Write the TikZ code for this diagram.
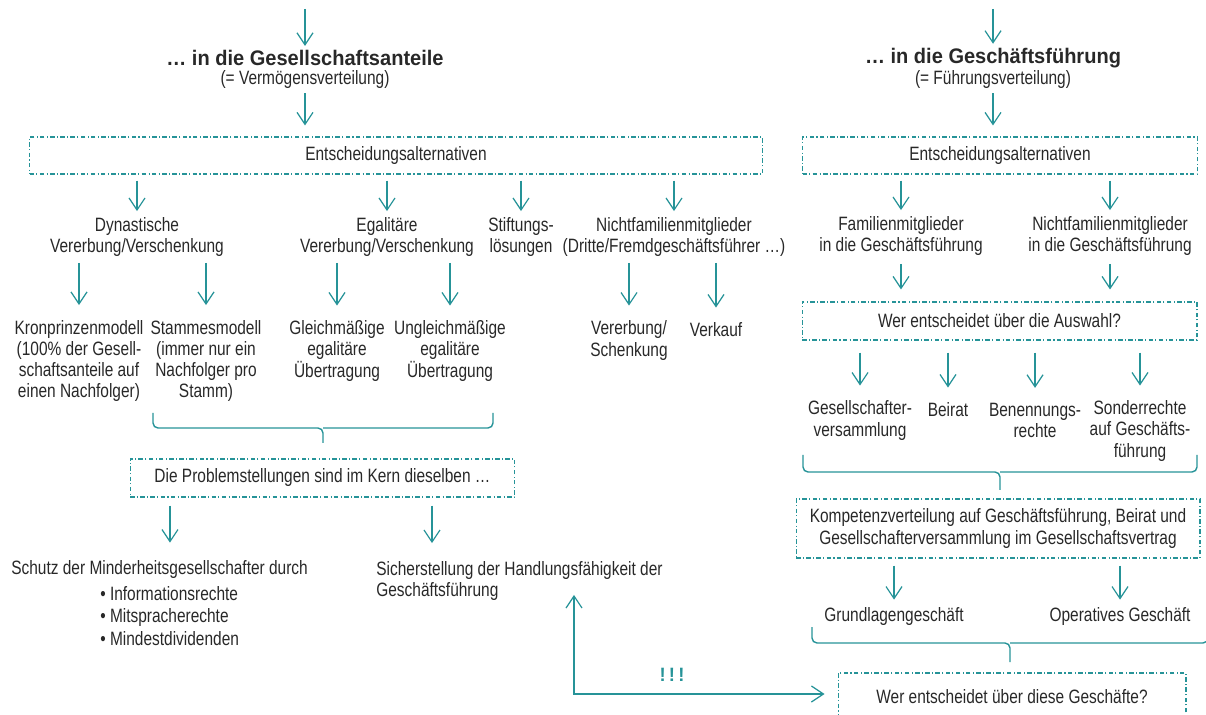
\documentclass[tikz,border=0pt]{standalone}
\usepackage{fontspec}
\setmainfont[FakeStretch=0.8]{Liberation Sans}
\newfontfamily\headfont[FakeStretch=0.95]{Liberation Sans}
\usepackage{xcolor}
\usepackage{tikz}
\usetikzlibrary{arrows.meta}
\definecolor{petrol}{RGB}{38,147,152}
\definecolor{ink}{RGB}{40,40,40}

\begin{document}
\begin{tikzpicture}[x=0.02cm,y=-0.02cm,
  font=\fontsize{11}{12}\selectfont, text=ink,
  every node/.style={inner sep=0pt, align=center},
  vtip/.tip={Straight Barb[length=2.4mm,width=3.2mm]},
  titel/.style={font=\headfont\fontsize{12}{14}\selectfont\bfseries},
  arr/.style={draw=petrol, line width=0.7pt, -vtip, shorten <=1.2mm, shorten >=1.2mm},
  altbox/.style={draw=petrol, line width=0.6pt, dash pattern=on 2.6pt off 1.3pt on 0.6pt off 1.3pt},
  brc/.style={draw=petrol, line width=0.8pt, rounded corners=1mm}]

\useasboundingbox (0,0) rectangle (1206,715);

% Gesellschaftsanteile
\coordinate (inL) at (305,9);
\node[titel] (titL) at (305,58) {… in die Gesellschaftsanteile};
\node (subL) at (305,80) {(= Vermögensverteilung)};
\node[altbox, minimum width=146.6mm, minimum height=7.4mm] (ent1) at (396,155.5) {Entscheidungsalternativen};
\draw[arr, shorten <=0pt, shorten >=0.8mm] (inL) -- (titL);
\draw[arr, shorten <=0.8mm, shorten >=2.2mm] (subL) -- (subL |- ent1.north);

\node (dyn) at (137,237) {Dynastische\\Vererbung/Verschenkung};
\node (ega) at (387,237) {Egalitäre\\Vererbung/Verschenkung};
\node (stift) at (521,237) {Stiftungs-\\lösungen};
\node (nfm) at (674,237) {Nichtfamilienmitglieder\\(Dritte/Fremdgeschäftsführer …)};
\foreach \n in {dyn,ega,stift,nfm}
  \draw[arr] (ent1.south -| \n.north) -- (\n.north);

\node (kron) at (79,361) {Kronprinzenmodell\\(100\% der Gesell-\\schaftsanteile auf\\einen Nachfolger)};
\node (stamm) at (206,361) {Stammesmodell\\(immer nur ein\\Nachfolger pro\\Stamm)};
\node (gleich) at (337,351) {Gleichmäßige\\egalitäre\\Übertragung};
\node (ungl) at (450,351) {Ungleichmäßige\\egalitäre\\Übertragung};
\node (vererb) at (629,340.5) {Vererbung/\\Schenkung};
\node (verk) at (716,330) {Verkauf};
\foreach \a/\b in {dyn/kron,dyn/stamm,ega/gleich,ega/ungl,nfm/vererb,nfm/verk}
  \draw[arr, shorten >=3mm] (\a.south -| \b.north) -- (\b.north);

\draw[brc] (153,413) |- (323,428) -- (323,443);
\draw[brc] (493,413) |- (323,428);

\node[altbox, minimum width=77mm, minimum height=7.6mm] (prob) at (322.5,478) {Die Problemstellungen sind im Kern dieselben …};
\node[anchor=west] (schutz) at (11,570) {Schutz der Minderheitsgesellschafter durch};
\node[anchor=west, align=left, font=\fontsize{11}{13}\selectfont] (bul) at (100,616) {• Informationsrechte\\• Mitspracherechte\\• Mindestdividenden};
\node[anchor=west, align=left] (sicher) at (376,581) {Sicherstellung der Handlungsfähigkeit der\\Geschäftsführung};
\draw[arr, shorten <=1.6mm, shorten >=3.6mm] ([xshift=31.8mm]schutz.north west |- prob.south) -- ([xshift=31.8mm]schutz.north west);
\draw[arr, shorten <=1.6mm, shorten >=3.6mm] ([xshift=11.2mm]sicher.north west |- prob.south) -- ([xshift=11.2mm]sicher.north west);

% Geschaeftsfuehrung
\coordinate (inR) at (993,9);
\node[titel] (titR) at (993,58) {… in die Geschäftsführung};
\node (subR) at (993,80) {(= Führungsverteilung)};
\node[altbox, minimum width=79mm, minimum height=7.4mm] (ent2) at (1000,155.5) {Entscheidungsalternativen};
\draw[arr, shorten <=0pt, shorten >=0.8mm] (inR) -- (titR);
\draw[arr, shorten <=0.8mm, shorten >=2.2mm] (subR) -- (subR |- ent2.north);

\node (fam) at (901,236) {Familienmitglieder\\in die Geschäftsführung};
\node (nfg) at (1110,236) {Nichtfamilienmitglieder\\in die Geschäftsführung};
\node[altbox, minimum width=79mm, minimum height=7.6mm] (wer) at (999.5,321) {Wer entscheidet über die Auswahl?};
\foreach \n in {fam,nfg} {
  \draw[arr] (ent2.south -| \n.north) -- (\n.north);
  \draw[arr, shorten <=1.6mm, shorten >=2.4mm] (\n.south) -- (\n.south |- wer.north);
}

\node (gv) at (860,420.5) {Gesellschafter-\\versammlung};
\node (beirat) at (948,410) {Beirat};
\node (benenn) at (1035,420.5) {Benennungs-\\rechte};
\node (sonder) at (1140,431) {Sonderrechte\\auf Geschäfts-\\führung};
\foreach \b in {gv,beirat,benenn,sonder}
  \draw[arr, shorten <=2.4mm, shorten >=3mm] (wer.south -| \b.north) -- (\b.north);

\draw[brc] (803,455) |- (1000,472) -- (1000,490);
\draw[brc] (1197,455) |- (1000,472);

\node[altbox, minimum width=80.8mm, minimum height=11.8mm] (komp) at (998,528.5) {Kompetenzverteilung auf Geschäftsführung, Beirat und\\Gesellschafterversammlung im Gesellschaftsvertrag};
\node (grund) at (894,617) {Grundlagengeschäft};
\node (oper) at (1120,617) {Operatives Geschäft};
\foreach \b in {grund,oper}
  \draw[arr, shorten <=1.4mm, shorten >=1.6mm] (komp.south -| \b.north) -- (\b.north);

\draw[brc] (812,627) |- (1010,643) -- (1010,662);
\draw[brc] (1208,627) |- (1010,643);

\node[altbox, minimum width=69.6mm, minimum height=9.6mm] (werG) at (1012,697) {Wer entscheidet über diese Geschäfte?};

% Rueckkopplung
\coordinate (fb) at (574,694);
\node[text=petrol, font=\headfont\fontsize{11}{13}\selectfont\bfseries] (bang) at (672,675) {!\,!\,!};
\draw[arr, vtip-vtip, shorten <=0pt, shorten >=2.6mm] ([yshift=1.2mm]sicher.south -| fb) -- (fb) -- (fb -| werG.west);

\end{tikzpicture}
\end{document}
